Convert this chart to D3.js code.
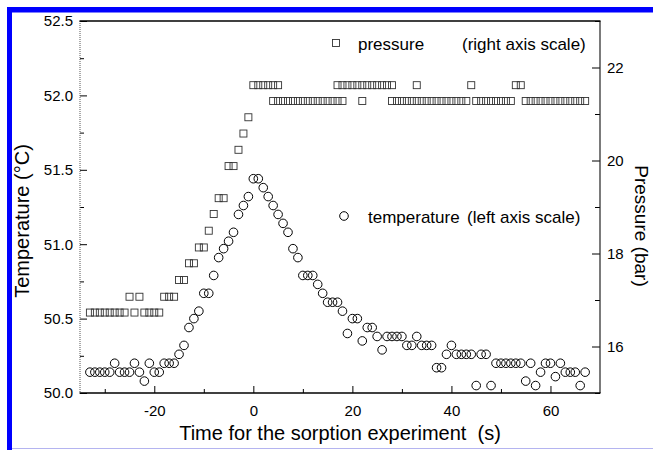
<!DOCTYPE html>
<html><head><meta charset="utf-8">
<script src="https://cdn.jsdelivr.net/npm/d3@7"></script>
<style>
html,body{margin:0;padding:0;background:#fff;}
svg text{font-family:Arial,"Liberation Sans",Helvetica,sans-serif;fill:#000;white-space:pre;}
</style></head>
<body><svg id="chart" width="653" height="450"></svg>
<script>
// ---- data ----
const tempTime = [-33,-32,-31,-30,-29,-28,-27,-26,-25,-24,-23,-22,-21,-20,-19,-18,-17,-16,-15,-14,-13,-12,-11,-10,-9,-8,-7,-6,-5,-4,-3,-2,-1,
  0,1,2,3,4,5,6,7,8,9,10,11,12,13,14,15,16,17,18,19,20,21,22,23,24,25,26,27,28,29,30,31,32,33,34,35,36,37,38,39,40,
  41,42,43,44,45,46,47,48,49,50,51,52,53,54,55,56,57,58,59,60,61,62,63,64,65,66,67];
const tempValue = [50.14,50.14,50.14,50.14,50.14,50.20,50.14,50.14,50.14,50.20,50.14,50.08,50.20,50.14,50.14,50.20,50.20,50.20,50.26,50.32,50.44,50.50,50.55,50.67,50.67,50.79,50.91,50.97,51.02,51.08,51.20,51.26,51.32,
  51.44,51.44,51.38,51.32,51.26,51.20,51.14,51.08,50.97,50.91,50.79,50.79,50.79,50.73,50.67,50.61,50.61,50.61,50.55,50.40,50.50,50.50,50.35,50.44,50.44,50.38,50.29,50.38,50.38,50.38,50.38,50.32,50.32,50.38,50.32,50.32,50.32,50.17,50.17,50.26,50.32,
  50.26,50.26,50.26,50.26,50.05,50.26,50.26,50.05,50.20,50.20,50.20,50.20,50.20,50.20,50.08,50.20,50.05,50.14,50.20,50.20,50.11,50.20,50.14,50.14,50.14,50.05,50.14];

const pressTime = [-33,-32,-31,-30,-29,-28,-27,-26,-25,-24,-23,-22,-21,-20,-19,-18,-17,-16,-15,-14,-13,-12,-11,-10,-9,-8,-7,-6,-5,-4,-3,-2,-1,
  0,1,2,3,4,5,
  4,5,6,7,8,9,10,11,12,13,14,15,16,17,18,
  17,18,19,20,21,22,23,24,25,26,27,28,
  22,33,
  28,29,30,31,32,33,34,35,36,37,38,39,40,41,42,43,
  44,
  45,46,47,48,49,50,51,52,
  53,54,
  55,56,57,58,59,60,61,62,63,64,65,66,67];
const pressValue = [16.73,16.73,16.73,16.73,16.73,16.73,16.73,16.73,17.07,16.73,17.07,16.73,16.73,16.73,16.73,17.07,17.07,17.07,17.43,17.43,17.79,17.79,18.13,18.13,18.49,18.85,19.19,19.19,19.88,19.88,20.23,20.58,20.93,
  21.62,21.62,21.62,21.62,21.62,21.62,
  21.28,21.28,21.28,21.28,21.28,21.28,21.28,21.28,21.28,21.28,21.28,21.28,21.28,21.28,21.28,
  21.62,21.62,21.62,21.62,21.62,21.62,21.62,21.62,21.62,21.62,21.62,21.62,
  21.28,21.62,
  21.28,21.28,21.28,21.28,21.28,21.28,21.28,21.28,21.28,21.28,21.28,21.28,21.28,21.28,21.28,21.28,
  21.62,
  21.28,21.28,21.28,21.28,21.28,21.28,21.28,21.28,
  21.62,21.62,
  21.28,21.28,21.28,21.28,21.28,21.28,21.28,21.28,21.28,21.28,21.28,21.28,21.28];

const leftMajor = [50.0,50.5,51.0,51.5,52.0,52.5];
const leftMinor = [50.25,50.75,51.25,51.75,52.25];
const bottomMajor = [-20,0,20,40,60];
const bottomMinor = [-30,-10,10,30,50];
const rightMajor = [16,18,20,22];
const rightMinor = [15,17,19,21,23];

const xTitle = "Time for the sorption experiment  (s)";
const yLeftTitle = "Temperature (°C)";
const yRightTitle = "Pressure (bar)";
const legendPress = ["pressure", "(right axis scale)"];
const legendTemp = ["temperature", "(left axis scale)"];

// ---- layout ----
const svg = d3.select("#chart");
const L = 80, R = 600, T = 21, B = 393;
const x = d3.scaleLinear().domain([-35, 70]).range([L, R]);
const yT = d3.scaleLinear().domain([50, 52.5]).range([B, T]);
const yP = d3.scaleLinear().domain([15, 23]).range([B, T]);

svg.append("rect").attr("width",653).attr("height",450).attr("fill","#fff");
// blue frame
svg.append("rect").attr("x",7).attr("y",7).attr("width",5).attr("height",443).attr("fill","#0000ff");
svg.append("rect").attr("x",7).attr("y",7).attr("width",646).attr("height",5.5).attr("fill","#0000ff");
svg.append("line").attr("x1",12).attr("x2",653).attr("y1",448.5).attr("y2",448.5).attr("stroke","#b4b4f0").attr("stroke-width",1);

// axes
const fontTick = 15;
function styleAxis(g){ g.select(".domain").remove(); g.selectAll("text").attr("font-size",fontTick).attr("font-family","Arial, 'Liberation Sans', sans-serif"); g.selectAll("line").attr("stroke","#000"); }

svg.append("g").attr("transform",`translate(${L},0)`)
  .call(d3.axisLeft(yT).tickValues(leftMajor).tickSize(-7).tickPadding(7).tickFormat(d3.format(".1f"))).call(styleAxis);
svg.append("g").attr("transform",`translate(${L},0)`)
  .call(d3.axisLeft(yT).tickValues(leftMinor).tickSize(-4).tickFormat("")).call(styleAxis);

svg.append("g").attr("transform",`translate(0,${B})`)
  .call(d3.axisBottom(x).tickValues(bottomMajor).tickSize(-7).tickPadding(12).tickFormat(d=>String(d))).call(styleAxis);
svg.append("g").attr("transform",`translate(0,${B})`)
  .call(d3.axisBottom(x).tickValues(bottomMinor).tickSize(-4).tickFormat("")).call(styleAxis);

svg.append("g").attr("transform",`translate(${R},0)`)
  .call(d3.axisRight(yP).tickValues(rightMajor).tickSize(-8).tickPadding(7).tickFormat(d=>String(d))).call(styleAxis);
svg.append("g").attr("transform",`translate(${R},0)`)
  .call(d3.axisRight(yP).tickValues(rightMinor).tickSize(-5).tickFormat("")).call(styleAxis);

// frame
svg.append("line").attr("x1",L).attr("x2",L).attr("y1",T).attr("y2",B).attr("stroke","#555").attr("stroke-width",1).attr("stroke-dasharray","1,1");
svg.append("line").attr("x1",R).attr("x2",R).attr("y1",T).attr("y2",B).attr("stroke","#222").attr("stroke-width",1.2);
svg.append("line").attr("x1",L-0.5).attr("x2",R+0.5).attr("y1",T).attr("y2",T).attr("stroke","#000").attr("stroke-width",1.5);
svg.append("line").attr("x1",L-0.5).attr("x2",R+0.5).attr("y1",B).attr("y2",B).attr("stroke","#000").attr("stroke-width",1.5);

// data: pressure squares
const sq = 7;
svg.append("g").selectAll("rect").data(pressTime.map((t,i)=>[t,pressValue[i]])).join("rect")
  .attr("x",d=>x(d[0])-sq/2).attr("y",d=>yP(d[1])-sq/2).attr("width",sq).attr("height",sq)
  .attr("fill","none").attr("stroke","#333").attr("stroke-width",0.9);

// data: temperature circles
svg.append("g").selectAll("circle").data(tempTime.map((t,i)=>[t,tempValue[i]])).join("circle")
  .attr("cx",d=>x(d[0])).attr("cy",d=>yT(d[1])).attr("r",4.3)
  .attr("fill","none").attr("stroke","#000").attr("stroke-width",1);

// legend
svg.append("rect").attr("x",336-3.5).attr("y",43-3.5).attr("width",7).attr("height",7).attr("fill","none").attr("stroke","#333").attr("stroke-width",0.9);
svg.append("text").attr("x",358).attr("y",50).attr("font-size",17).text(legendPress[0]);
svg.append("text").attr("x",462).attr("y",50).attr("font-size",17).text(legendPress[1]);
svg.append("circle").attr("cx",344).attr("cy",216).attr("r",4.3).attr("fill","none").attr("stroke","#000");
svg.append("text").attr("x",368).attr("y",223).attr("font-size",17).text(legendTemp[0]);
svg.append("text").attr("x",467).attr("y",223).attr("font-size",17).text(legendTemp[1]);

// titles
svg.append("text").attr("x",340).attr("y",440).attr("text-anchor","middle").attr("font-size",20).text(xTitle);
svg.append("text").attr("transform","translate(29,221) rotate(-90)").attr("text-anchor","middle").attr("font-size",20).text(yLeftTitle);
svg.append("text").attr("transform","translate(635,226) rotate(90)").attr("text-anchor","middle").attr("font-size",19).text(yRightTitle);
</script></body></html>
